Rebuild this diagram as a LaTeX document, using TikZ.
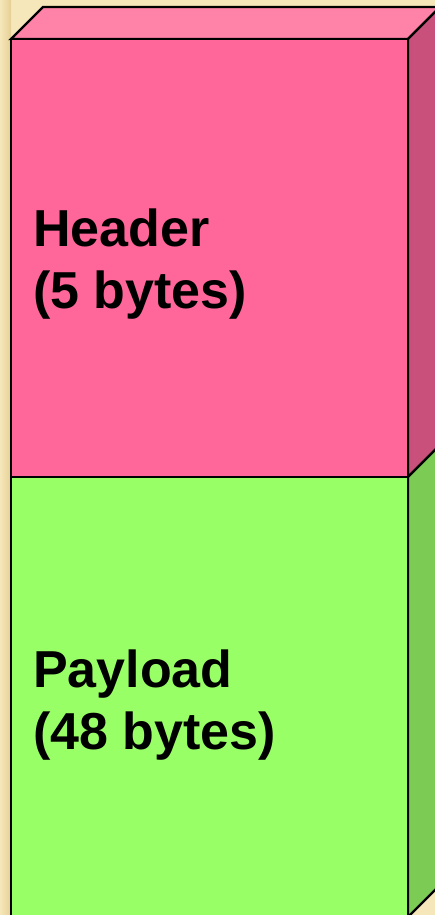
\documentclass[tikz,border=0pt]{standalone}
\usepackage{fontspec}
\setmainfont{Liberation Sans}
\definecolor{bgbeige}{HTML}{F6E7BA}
\definecolor{bgedge}{HTML}{E6CF95}
\definecolor{hfront}{HTML}{FF6699}
\definecolor{htop}{HTML}{FF82A8}
\definecolor{hside}{HTML}{C8507A}
\definecolor{pfront}{HTML}{99FF66}
\definecolor{pside}{HTML}{7CCB55}
\tikzset{
  face/.style={draw=black, line width=2.4pt, line join=miter},
  lbl/.style={anchor=base west, inner sep=0pt, align=left, font=\fontsize{52}{62}\selectfont\bfseries}
}
\begin{document}
\begin{tikzpicture}[x=1pt,y=-1pt]
\fill[bgbeige] (0,0) rectangle (435,915);
\shade[left color=bgbeige, right color=bgedge] (0,0) rectangle (11,915);
\useasboundingbox (0,0) rectangle (435,915);
% header
\draw[face, fill=htop] (11,39) -- (43,7) -- (440,7) -- (408,39) -- cycle;
\draw[face, fill=hside] (408,39) -- (440,7) -- (440,445) -- (408,477) -- cycle;
\draw[face, fill=hfront] (11,39) rectangle (408,477);
% payload
\draw[face, fill=pside] (408,477) -- (440,445) -- (440,885) -- (408,917) -- cycle;
\draw[face, fill=pfront] (11,477) rectangle (408,925);
\node[lbl] (hdr) at (33,308) {Header\\(5 bytes)};
\node[lbl] (pay) at (33,749) {Payload\\(48 bytes)};
\end{tikzpicture}
\end{document}
